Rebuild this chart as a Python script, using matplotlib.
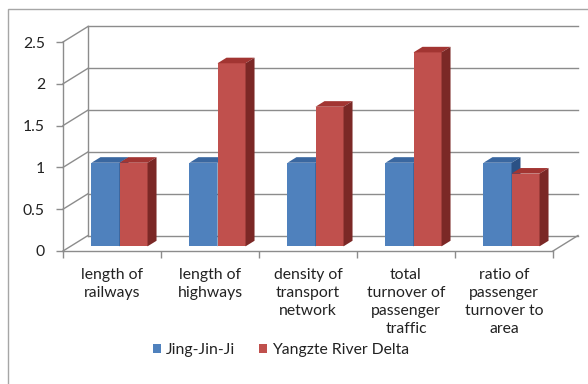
import numpy as np
import matplotlib
matplotlib.use("Agg")
import matplotlib.pyplot as plt
from matplotlib.patches import Polygon, Rectangle, Patch

plt.rcParams['font.family'] = ['Lato', 'DejaVu Sans']

# data
categories = ["length of\nrailways", "length of\nhighways",
              "density of\ntransport\nnetwork",
              "total\nturnover of\npassenger\ntraffic",
              "ratio of\npassenger\nturnover to\narea"]
jjj = [1.0, 1.0, 1.0, 1.0, 1.0]
yrd = [1.0, 2.19, 1.67, 2.32, 0.87]
series_names = ["Jing-Jin-Ji", "Yangzte River Delta"]
yticks = [0, 0.5, 1, 1.5, 2, 2.5]

W, H = 588, 384
fig = plt.figure(figsize=(W / 100, H / 100), dpi=100)

# outer chart border
fig.patches.append(Rectangle((8 / W, -0.1), 1.2, 1 - 9 / H + 0.1, transform=fig.transFigure,
                             fill=False, edgecolor='#a6a6a6', lw=1.0))

# axes placed so that the front of the plot lines up with the picture
x0, x1 = 63, 553
ytop, ybot = 42, 251
ax = fig.add_axes([x0 / W, 1 - ybot / H, (x1 - x0) / W, (ybot - ytop) / H])
n = len(categories)
ax.set_xlim(0, n)
ax.set_ylim(0, 2.5)
ax.patch.set_visible(False)

DX = 25 / 98       # depth shift in category units
DY = 15.5 / 83.6   # depth shift in value units
grid_c = '#8c8c8c'

# walls / gridlines
for v in yticks:
    ax.plot([0, DX], [v, v + DY], color=grid_c, lw=1, clip_on=False, zorder=1)
    ax.plot([DX, n + DX], [v + DY, v + DY], color=grid_c, lw=1, clip_on=False, zorder=1)
ax.plot([DX, DX], [DY, 2.5 + DY], color=grid_c, lw=1, clip_on=False, zorder=1)
ax.plot([n, n + DX], [0, DY], color=grid_c, lw=1, clip_on=False, zorder=1)

for s in ['top', 'right']:
    ax.spines[s].set_visible(False)
for s in ['left', 'bottom']:
    ax.spines[s].set_color(grid_c)
    ax.spines[s].set_linewidth(1)

# bars
bw = 0.286
f0, f1 = 0.3, 0.66
ox, oy = f0 * DX, f0 * DY
ddx, ddy = (f1 - f0) * DX, (f1 - f0) * DY
cols = [('#4f81bd', '#3a67a0', '#2b5185'), ('#c0504d', '#a23532', '#7b2826')]
z = 3
for i in range(n):
    for k, vals in enumerate([jjj, yrd]):
        front, top, side = cols[k]
        xl = i + 0.5 - bw + k * bw + ox
        h = vals[i]
        ax.bar(xl, h, width=bw, bottom=oy, align='edge', color=front,
               edgecolor='none', zorder=z, clip_on=False)
        ax.add_patch(Polygon([(xl, oy + h), (xl + bw, oy + h), (xl + bw + ddx, oy + h + ddy),
                              (xl + ddx, oy + h + ddy)], closed=True, facecolor=top,
                             edgecolor='none', zorder=z, clip_on=False))
        ax.add_patch(Polygon([(xl + bw, oy), (xl + bw + ddx, oy + ddy), (xl + bw + ddx, oy + h + ddy),
                              (xl + bw, oy + h)], closed=True, facecolor=side,
                             edgecolor='none', zorder=z, clip_on=False))
        z += 1

# ticks
txt_c = '#222222'
fs = 11.3
ax.set_yticks(yticks, [f"{t:g}" for t in yticks])
ax.tick_params(axis='y', length=5, width=1, color=grid_c, pad=8, labelsize=fs, labelcolor=txt_c)
ax.set_xticks(np.arange(n + 1), [''] * (n + 1))
ax.tick_params(axis='x', which='major', length=5, width=1, color=grid_c)
ax.set_xticks(np.arange(n) + 0.5, categories, minor=True)
ax.tick_params(axis='x', which='minor', length=0, pad=12, labelsize=fs, labelcolor=txt_c)
for lbl in ax.get_xticklabels(minor=True):
    lbl.set_linespacing(1.38)

handles = [Patch(facecolor=cols[0][0]), Patch(facecolor=cols[1][0])]
fig.legend(handles, series_names, loc='center', bbox_to_anchor=(281 / W, 1 - 350 / H),
           ncol=2, frameon=False, handlelength=0.55, handleheight=0.55, handletextpad=0.3,
           columnspacing=1.5, fontsize=fs, labelcolor=txt_c)

fig.savefig("out.png", dpi=100)
